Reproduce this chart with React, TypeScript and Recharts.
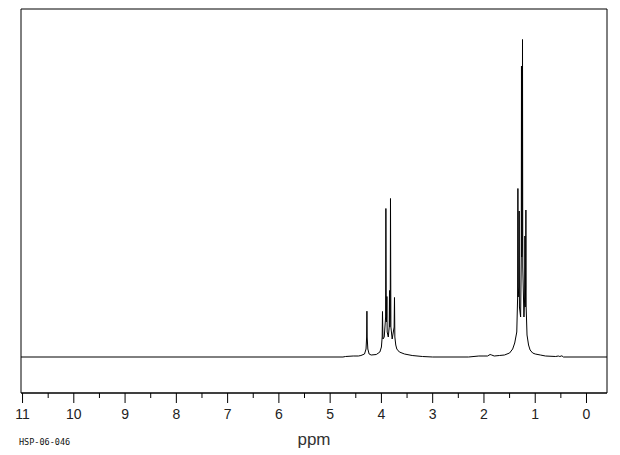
import { LineChart, Line, XAxis, YAxis, ReferenceArea } from "recharts";

// chemical shift (ppm) of each traced point, high field on the right
const SHIFTS = [
  11.03, 4.75, 4.7, 4.55, 4.45, 4.4, 4.33, 4.3, 4.288, 4.283, 4.278, 4.265, 4.24, 4.2, 4.1,
  4.03, 4.0, 3.985, 3.979, 3.97, 3.945, 3.918, 3.913, 3.905, 3.898, 3.893, 3.888, 3.866,
  3.848, 3.842, 3.836, 3.828, 3.823, 3.815, 3.79, 3.752, 3.745, 3.738, 3.72, 3.7, 3.65,
  3.55, 3.4, 3.2, 3.0, 2.3, 2.1, 2.0, 1.93, 1.88, 1.85, 1.8, 1.7, 1.6, 1.5, 1.44, 1.4,
  1.36, 1.343, 1.338, 1.333, 1.318, 1.313, 1.308, 1.285, 1.272, 1.268, 1.262, 1.253,
  1.248, 1.243, 1.22, 1.206, 1.201, 1.196, 1.187, 1.182, 1.177, 1.16, 1.13, 1.1, 1.05,
  1.0, 0.9, 0.8, 0.6, 0.55, 0.52, 0.48, 0.45, -0.4,
];

// signal intensity at each shift above
const INTENSITY = [
  0, 0, 0.5, 1, 1, 1.5, 3, 8, 20, 45.8, 20, 8, 3, 2, 2.5,
  5, 10, 20, 45.5, 18, 20, 40, 148.5, 35, 40, 60.5, 25, 20,
  30, 66.5, 30, 40, 158.5, 30, 18, 30, 59.5, 20, 12, 8, 5,
  3, 1.5, 0.5, 0, 0, 1, 1, 1, 2.5, 2, 1, 1.5, 2, 4, 8, 14,
  25, 60, 168.5, 60, 70, 146, 50, 40, 100, 291, 100, 110,
  317.5, 90, 40, 60, 121, 50, 70, 147, 50, 22, 12, 7, 4,
  3, 2, 1, 0.5, 1, 0.5, 1.2, 0, 0,
];

const TICKS = [
  0, 0.5, 1, 1.5, 2, 2.5, 3, 3.5, 4, 4.5, 5, 5.5, 6, 6.5, 7, 7.5, 8, 8.5, 9, 9.5, 10, 10.5, 11,
];

const data = SHIFTS.map((ppm, i) => ({ ppm, value: INTENSITY[i] }));

const PpmTick = (props: any) => {
  const { x, y, payload } = props;
  const major = Number.isInteger(payload.value);
  return (
    <g>
      <line x1={x} y1={y} x2={x} y2={y + (major ? 10 : 5)} stroke="#000" strokeWidth={1} />
      {major && (
        <text
          x={x}
          y={y + 26}
          textAnchor="middle"
          fontSize={14}
          fontFamily="'Liberation Sans', Arial, sans-serif"
          fill="#222"
        >
          {payload.value}
        </text>
      )}
    </g>
  );
};

export default function App() {
  return (
    <div style={{ position: "absolute", left: 0, top: 0, width: 620, height: 455, background: "#fff" }}>
      <LineChart
        width={620}
        height={455}
        data={data}
        margin={{ top: 9, right: 13, left: 21, bottom: 0 }}
      >
        <XAxis
          type="number"
          dataKey="ppm"
          domain={[-0.4, 11.03]}
          reversed
          allowDataOverflow
          ticks={TICKS}
          interval={0}
          tick={<PpmTick />}
          tickLine={false}
          tickSize={0}
          tickMargin={0}
          height={62}
          axisLine={{ stroke: "#000" }}
          label={{
            value: "ppm",
            position: "insideBottom",
            offset: 10,
            fontSize: 17,
            fontFamily: "'Liberation Sans', Arial, sans-serif",
            fill: "#333",
          }}
        />
        <YAxis hide domain={[-36, 348]} allowDataOverflow />
        <ReferenceArea x1={-0.4} x2={11.03} y1={-36} y2={348} fill="none" stroke="#000" strokeWidth={1} />
        <Line
          type="linear"
          dataKey="value"
          stroke="#000"
          strokeWidth={1}
          dot={false}
          isAnimationActive={false}
        />
      </LineChart>
      <div
        style={{
          position: "absolute",
          left: 19,
          top: 437,
          fontFamily: "'DejaVu Sans Mono', monospace",
          fontSize: 8.5,
          color: "#111",
        }}
      >
        HSP-06-046
      </div>
    </div>
  );
}
